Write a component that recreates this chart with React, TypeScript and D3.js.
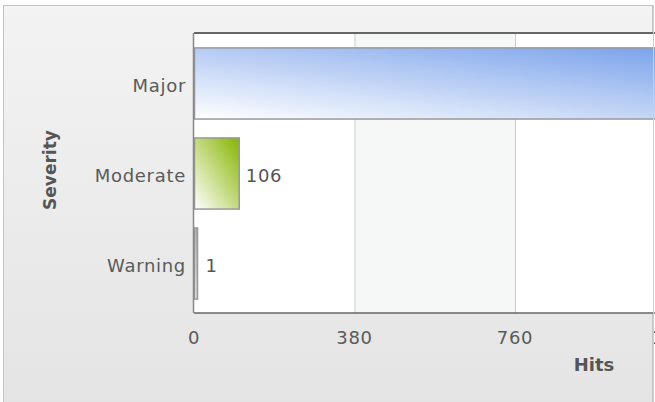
import React, { useEffect, useRef } from 'react';
import * as d3 from 'd3';

const categories = ['Major', 'Moderate', 'Warning'];
const hits = [1420, 106, 1];
const xTicks = [0, 380, 760, 1140, 1520];
const xTitle = 'Hits';
const yTitle = 'Severity';

const W = 655;
const H = 402;

const App = () => {
  const ref = useRef(null);

  useEffect(() => {
    const svg = d3.select(ref.current);
    svg.selectAll('*').remove();

    const margin = { top: 33, left: 194, bottom: 313 };
    const x = d3.scaleLinear().domain([0, 1520]).range([margin.left, margin.left + 4 * 160.5]);
    const y = d3.scaleBand().domain(categories).range([margin.top, margin.bottom]).paddingInner(0.21).paddingOuter(0.16);

    const defs = svg.append('defs');
    const bg = defs.append('linearGradient').attr('id', 'bg').attr('x1', 0).attr('y1', 0).attr('x2', 0).attr('y2', 1);
    bg.append('stop').attr('offset', '0%').attr('stop-color', '#f3f3f3');
    bg.append('stop').attr('offset', '100%').attr('stop-color', '#e4e4e4');

    const grad = (id, c) => {
      const g = defs.append('linearGradient').attr('id', id).attr('x1', 1).attr('y1', 0).attr('x2', 0).attr('y2', 1);
      g.append('stop').attr('offset', '0%').attr('stop-color', c);
      g.append('stop').attr('offset', '100%').attr('stop-color', '#ffffff');
    };
    grad('g0', '#6a97e8');
    grad('g1', '#86b500');
    grad('g2', '#999999');

    svg.append('rect').attr('width', W).attr('height', H).attr('fill', '#ffffff');
    // chart background + border
    svg.append('rect').attr('x', 3.5).attr('y', 5.5).attr('width', 649).attr('height', H).attr('fill', 'url(#bg)').attr('stroke', '#c4c4c4');

    // plot background
    svg.append('rect').attr('x', x(0)).attr('y', margin.top).attr('width', x(1520) - x(0)).attr('height', margin.bottom - margin.top).attr('fill', '#ffffff');
    // alternate stripes
    svg.selectAll('.stripe')
      .data(d3.range(1, xTicks.length - 1, 2))
      .enter()
      .append('rect')
      .attr('x', (i) => x(xTicks[i]))
      .attr('y', margin.top)
      .attr('width', (i) => x(xTicks[i + 1]) - x(xTicks[i]))
      .attr('height', margin.bottom - margin.top)
      .attr('fill', '#f6f8f7');
    // grid lines
    svg.selectAll('.grid')
      .data(xTicks.slice(1, -1))
      .enter()
      .append('line')
      .attr('x1', (d) => x(d) + 0.5)
      .attr('x2', (d) => x(d) + 0.5)
      .attr('y1', margin.top)
      .attr('y2', margin.bottom)
      .attr('stroke', '#cccccc');

    // bars
    svg.selectAll('.bar')
      .data(categories)
      .enter()
      .append('rect')
      .attr('x', x(0) + 0.5)
      .attr('y', (d) => y(d) + 0.5)
      .attr('width', (d, i) => Math.max(x(hits[i]) - x(0), 3))
      .attr('height', y.bandwidth())
      .attr('fill', (d, i) => `url(#g${i})`)
      .attr('stroke', '#999999')
      .attr('stroke-width', 1.5);

    // axis lines
    svg.append('line').attr('x1', x(0)).attr('x2', W).attr('y1', margin.top).attr('y2', margin.top).attr('stroke', '#666666').attr('stroke-width', 2);
    svg.append('line').attr('x1', x(0) - 0.5).attr('x2', x(0) - 0.5).attr('y1', margin.top).attr('y2', margin.bottom).attr('stroke', '#888888').attr('stroke-width', 1.5);
    svg.append('line').attr('x1', x(0)).attr('x2', W).attr('y1', margin.bottom).attr('y2', margin.bottom).attr('stroke', '#666666').attr('stroke-width', 1.5);

    const font = 'DejaVu Sans, Verdana, sans-serif';
    const fs = 18;
    const ls = 0.7;

    // value labels
    svg.selectAll('.val')
      .data(categories)
      .enter()
      .append('text')
      .attr('x', (d, i) => x(hits[i]) + (hits[i] < 10 ? 11 : 7))
      .attr('y', (d) => y(d) + y.bandwidth() / 2 + 2.5)
      .attr('dy', '0.35em')
      .attr('font-family', font)
      .attr('font-size', fs)
      .attr('letter-spacing', ls)
      .attr('fill', '#555555')
      .text((d, i) => hits[i]);

    // category labels
    svg.selectAll('.cat')
      .data(categories)
      .enter()
      .append('text')
      .attr('x', 186)
      .attr('y', (d) => y(d) + y.bandwidth() / 2 + 2.5)
      .attr('dy', '0.35em')
      .attr('text-anchor', 'end')
      .attr('font-family', font)
      .attr('font-size', fs)
      .attr('letter-spacing', ls)
      .attr('fill', '#5a5a5a')
      .text((d) => d);

    // x tick labels
    svg.selectAll('.tick')
      .data(xTicks)
      .enter()
      .append('text')
      .attr('x', (d) => x(d))
      .attr('y', 338)
      .attr('dy', '0.35em')
      .attr('text-anchor', 'middle')
      .attr('font-family', font)
      .attr('font-size', fs)
      .attr('letter-spacing', ls)
      .attr('fill', '#5a5a5a')
      .text((d) => d);

    svg.append('text')
      .attr('x', 594)
      .attr('y', 365)
      .attr('dy', '0.35em')
      .attr('text-anchor', 'middle')
      .attr('font-family', font)
      .attr('font-size', fs)
      .attr('font-weight', 'bold')
      .attr('fill', '#555555')
      .text(xTitle);

    svg.append('text')
      .attr('transform', 'translate(50,170) rotate(-90)')
      .attr('dy', '0.35em')
      .attr('text-anchor', 'middle')
      .attr('font-family', font)
      .attr('font-size', 17)
      .attr('font-weight', 'bold')
      .attr('fill', '#555555')
      .text(yTitle);

    // right border overlay
    svg.append('line').attr('x1', 653.5).attr('x2', 653.5).attr('y1', 5).attr('y2', H).attr('stroke', '#cfcfcf');
  }, []);

  return (
    <svg
      ref={ref}
      width={W}
      height={H}
      style={{ position: 'absolute', left: 0, top: 0, overflow: 'hidden' }}
    ></svg>
  );
};

export default App;
